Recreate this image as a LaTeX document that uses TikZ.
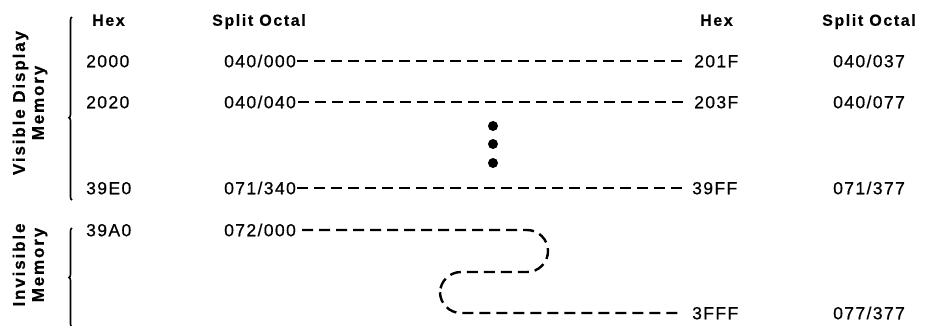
\documentclass[tikz,border=0pt]{standalone}
\usepackage{fontspec}
\usetikzlibrary{decorations.pathreplacing}
\newfontfamily\addrfont[LetterSpace=8,FakeBold=0.6]{Liberation Sans}
\newfontfamily\headfont[LetterSpace=10,FakeBold=0.4]{Liberation Sans Bold}
\newfontfamily\sidefont[LetterSpace=11,FakeBold=0.4]{Liberation Sans Bold}
\begin{document}
\begin{tikzpicture}[
  x=1pt, y=-1pt,
  addr/.style={anchor=west, inner sep=0pt, text height=12.5pt, text depth=0pt,
               font=\addrfont\fontsize{17.5}{20}\selectfont},
  head/.style={anchor=west, inner sep=0pt, text height=11.5pt, text depth=0pt,
               font=\headfont\fontsize{16}{19}\selectfont},
  side/.style={rotate=90, align=center, inner sep=0pt,
               font=\sidefont\fontsize{17}{19}\selectfont},
  rangeline/.style={line width=2.4pt, dash pattern=on 11pt off 6pt},
  membrace/.style={decorate, line width=1.6pt,
                   decoration={brace, amplitude=3pt}},
]
  \useasboundingbox (0,0) rectangle (933,325);

  \node[head] (hexA) at (92,20) {Hex};
  \node[head] (octA) at (212,20) {Split Octal};
  \node[head] (hexB) at (700,20) {Hex};
  \node[head] (octB) at (822,20) {Split Octal};

  \node[addr] (lo1) at (86,61) {2000};
  \node[addr] (lo2) at (86,102) {2020};
  \node[addr] (lo3) at (86,188) {39E0};
  \node[addr] (lo4) at (86,230) {39A0};

  \node[addr] (so1) at (224,61) {040/000};
  \node[addr] (so2) at (224,102) {040/040};
  \node[addr] (so3) at (224,188) {071/340};
  \node[addr] (so4) at (224,230) {072/000};

  \node[addr] (hi1) at (694,61) {201F};
  \node[addr] (hi2) at (694,102) {203F};
  \node[addr] (hi3) at (692,188) {39FF};
  \node[addr] (hi5) at (692,313) {3FFF};

  \node[addr] (eo1) at (833,61) {040/037};
  \node[addr] (eo2) at (833,102) {040/077};
  \node[addr] (eo3) at (833,188) {071/377};
  \node[addr] (eo5) at (833,313) {077/377};

  \draw[rangeline, shorten <=1pt, shorten >=11pt] (so1.east) -- (hi1.west);
  \draw[rangeline, shorten <=2pt, shorten >=11pt] (so2.east) -- (hi2.west);
  \draw[rangeline, shorten <=1pt, shorten >=4pt] (so3.east) -- (hi3.west);
  \draw[rangeline, rounded corners=21pt, shorten <=6pt, shorten >=12pt]
    (so4.east) -- (548,230) -- (548,272) -- (440,272) -- (440,313) -- (hi5.west);

  \foreach \i/\y in {1/126, 2/144, 3/163}
    \fill (493,\y) circle (5pt) coordinate (dot\i);

  \coordinate (visTop) at (72,17);
  \coordinate (visBot) at (72,200);
  \coordinate (invTop) at (72,228);
  \coordinate (invBot) at (72,327);
  \draw[membrace, decoration={aspect=0.45}] (visBot) -- (visTop);
  \draw[membrace] (invBot) -- (invTop);

  \node[side] (visLbl) at (30,103) {Visible Display\\Memory};
  \node[side] (invLbl) at (30,265) {Invisible\\Memory};
\end{tikzpicture}
\end{document}
